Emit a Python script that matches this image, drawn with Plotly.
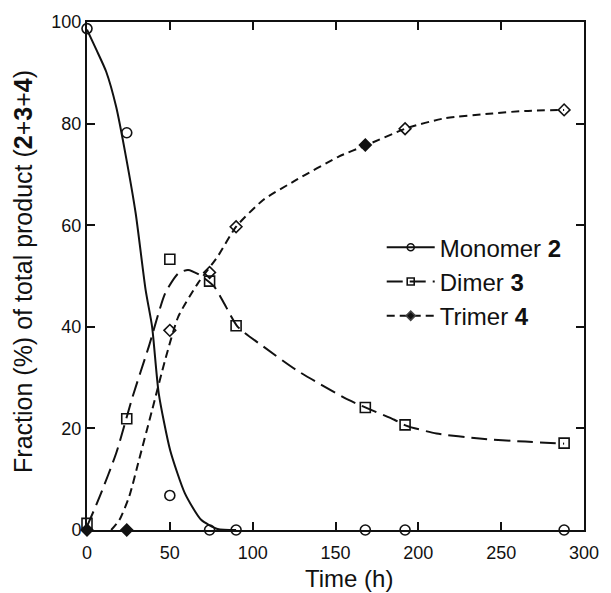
import plotly.graph_objects as go

# measured points
time_pts = [0, 24, 50, 74, 90, 168, 192, 288]
monomer = [98.7, 78.2, 6.8, 0, 0, 0, 0, 0]
dimer = [1.3, 21.9, 53.3, 49.0, 40.2, 24.1, 20.7, 17.1]
trimer = [0, 0, 39.3, 50.7, 59.7, 75.8, 79.0, 82.7]
trimer_filled = [True, True, False, False, False, True, False, False]

# fitted curves
mono_fit_x = [0, 5.7, 11.6, 17.6, 23.5, 29.4, 35.4, 39.3, 43.3, 50.2, 59.1, 68.9, 78.8, 90]
mono_fit_y = [98.5, 94.5, 90.2, 83.3, 73.5, 62.3, 47.2, 40.0, 26.9, 15.7, 7.2, 2.0, 0.2, 0]

dimer_fit_x = [0, 7.7, 17.6, 27.5, 37.3, 47.2, 55.1, 61, 68, 76.8, 82.8, 91, 106.5, 126.3, 157.9, 169, 185.5, 193, 211, 236.9, 264.5, 288]
dimer_fit_y = [0.7, 6.6, 15.1, 26.2, 36.1, 46.6, 50.5, 51.2, 50.2, 47.9, 44.6, 40.0, 36.1, 31.5, 25.6, 24.0, 21.7, 20.5, 19.0, 18.0, 17.4, 17.0]

trimer_fit_x = [14.6, 19.6, 25.5, 31.4, 39.3, 47.2, 55.1, 67, 78.8, 90, 106.5, 126.3, 151.9, 169, 193, 215.2, 244.8, 264.5, 288]
trimer_fit_y = [0, 2.0, 6.6, 13.8, 23.6, 33.5, 42.0, 48.6, 53.8, 59.7, 65.0, 68.9, 73.5, 75.8, 79.1, 81.0, 82.0, 82.5, 82.7]

x_ticks = [0, 50, 100, 150, 200, 250, 300]
y_ticks = [0, 20, 40, 60, 80, 100]

FONT = "Liberation Sans, Arial, Helvetica, sans-serif"
BLACK = "#111111"
MONO_DASH = "solid"
DIMER_DASH = "16px,7px"
TRIMER_DASH = "8px,5px"

fig = go.Figure()

# curves
fig.add_trace(go.Scatter(x=mono_fit_x, y=mono_fit_y, mode="lines", line=dict(color=BLACK, width=2, dash=MONO_DASH, shape="spline", smoothing=0.6), showlegend=False, hoverinfo="skip"))
fig.add_trace(go.Scatter(x=dimer_fit_x, y=dimer_fit_y, mode="lines", line=dict(color=BLACK, width=2, dash=DIMER_DASH, shape="spline", smoothing=0.6), showlegend=False, hoverinfo="skip"))
fig.add_trace(go.Scatter(x=trimer_fit_x, y=trimer_fit_y, mode="lines", line=dict(color=BLACK, width=2, dash=TRIMER_DASH, shape="spline", smoothing=0.6), showlegend=False, hoverinfo="skip"))

# data points
fig.add_trace(go.Scatter(x=time_pts, y=monomer, mode="markers", marker=dict(symbol="circle-open", size=10, color=BLACK, line=dict(width=1.6, color=BLACK)), showlegend=False, cliponaxis=False))
fig.add_trace(go.Scatter(x=time_pts, y=dimer, mode="markers", marker=dict(symbol="square-open", size=10, color=BLACK, line=dict(width=1.6, color=BLACK)), showlegend=False, cliponaxis=False))
fig.add_trace(go.Scatter(x=time_pts, y=trimer, mode="markers", marker=dict(symbol=["diamond" if f else "diamond-open" for f in trimer_filled], size=9, color=BLACK, line=dict(width=1.6, color=BLACK)), showlegend=False, cliponaxis=False))

# legend entries
fig.add_trace(go.Scatter(x=[None], y=[None], mode="lines+markers", name="Monomer <b>2</b>", line=dict(color=BLACK, width=2, dash=MONO_DASH), marker=dict(symbol="circle-open", size=7, color=BLACK, line=dict(width=1.6))))
fig.add_trace(go.Scatter(x=[None], y=[None], mode="lines+markers", name="Dimer <b>3</b>", line=dict(color=BLACK, width=2, dash=DIMER_DASH), marker=dict(symbol="square-open", size=7, color=BLACK, line=dict(width=1.6))))
fig.add_trace(go.Scatter(x=[None], y=[None], mode="lines+markers", name="Trimer <b>4</b>", line=dict(color=BLACK, width=2, dash=TRIMER_DASH), marker=dict(symbol="diamond", size=7, color=BLACK, line=dict(width=1.6))))

axis_common = dict(showgrid=False, zeroline=False, showline=True, linecolor=BLACK, linewidth=2, mirror="ticks", ticks="inside", ticklen=8, tickwidth=1.5, tickcolor=BLACK, tickfont=dict(family=FONT, size=18, color=BLACK))

fig.update_xaxes(range=[0, 300], tickvals=x_ticks, ticktext=[str(v) for v in x_ticks], ticklabelstandoff=5, **axis_common)
fig.update_yaxes(range=[0, 100], tickvals=y_ticks, ticktext=[str(v) for v in y_ticks], **axis_common)

fig.add_annotation(text="Time (h)", xref="paper", yref="paper", x=0.528, y=0, yshift=-48, showarrow=False, yanchor="middle", xanchor="center", font=dict(family=FONT, size=24, color=BLACK))
fig.add_annotation(text="Fraction (%) of total product (<b>2</b>+<b>3</b>+<b>4</b>)", xref="paper", yref="paper", x=0, xshift=-64, y=0.508, showarrow=False, textangle=-90, xanchor="center", yanchor="middle", font=dict(family=FONT, size=25, color=BLACK))

fig.update_layout(
    width=611, height=593,
    margin=dict(l=87, r=18, t=22, b=63),
    paper_bgcolor="white", plot_bgcolor="white",
    legend=dict(x=0.593, y=0.6, xanchor="left", yanchor="top", bgcolor="rgba(0,0,0,0)", font=dict(family=FONT, size=24, color=BLACK), tracegroupgap=0, itemwidth=48),
    font=dict(family=FONT, color=BLACK),
)

fig.write_html("out.html", config={"displayModeBar": False}, post_script="document.body.style.margin='0';document.body.style.padding='0';")
